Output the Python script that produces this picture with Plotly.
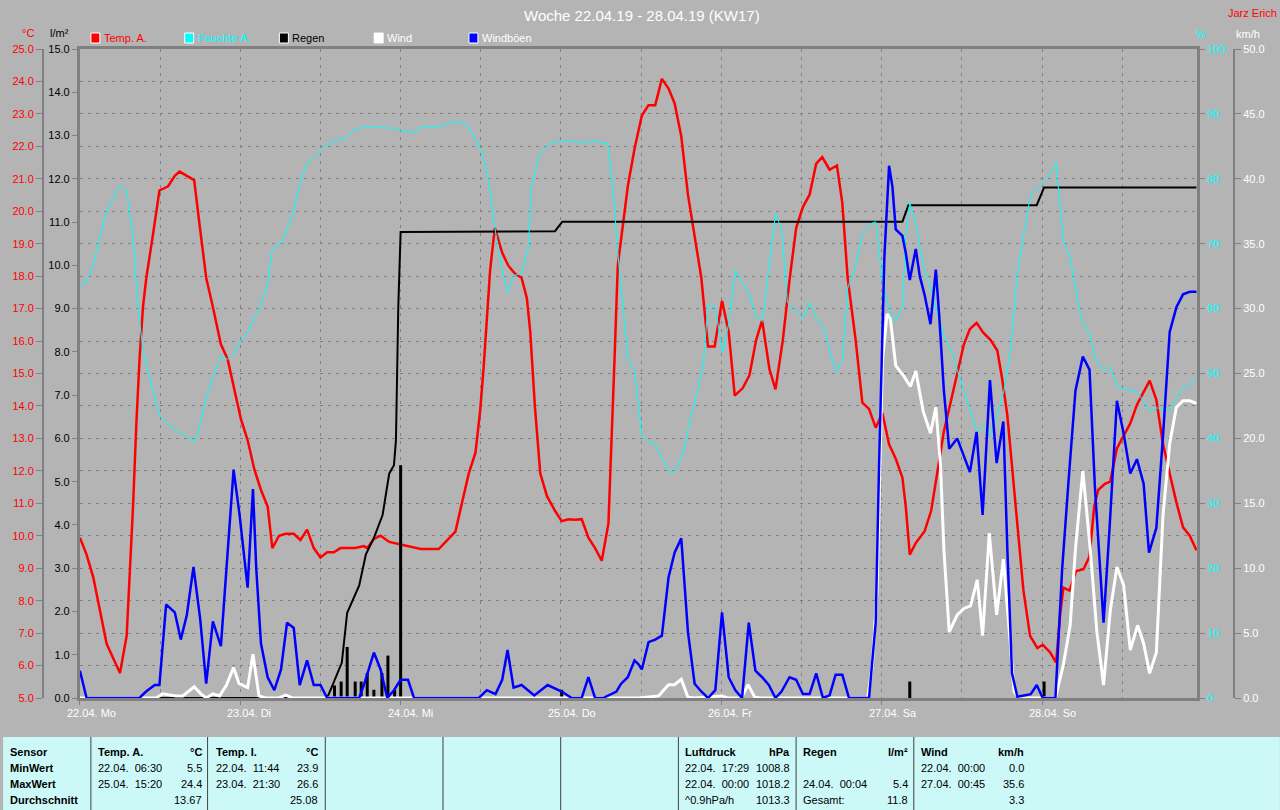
import plotly.graph_objects as go

# ---------------- data (time in hours since 22.04.19 00:00) ----------------
temp_t = [0, 1.0, 2.0, 3.0, 4.0, 5.0, 6.0, 7.0, 7.5, 7.95, 8.45, 8.94, 9.44, 9.94, 10.9, 11.9, 13.2, 14.2, 14.9,
          15.9, 17.1, 17.9, 18.9, 19.9, 21.1, 22.1, 23.1, 24.1, 25.1, 26.1, 27.1, 28.1, 28.8, 29.8, 30.8, 32.0,
          33.0, 34.0, 35.0, 36.0, 37.0, 38.0, 39.0, 41.2, 42.5, 43.0, 44.0, 45.0, 46.3, 48.25, 50.0, 51.0, 53.7,
          54.7, 56.2, 57.2, 58.2, 59.2, 59.9, 60.4, 60.9, 61.4, 62.1, 63.2, 64.1, 65.1, 66.1, 66.9, 67.4, 68.1,
          68.9, 69.9, 71.1, 72.1, 73.1, 74.1, 75.1, 76.1, 77.1, 78.1, 79.1, 79.5, 80.0, 80.5, 81.3, 82.0, 83.0,
          84.1, 85.1, 86.1, 87.1, 88.1, 89.0, 90.0, 91.0, 92.0, 93.0, 94.0, 95.0, 96.1, 97.1, 98.0, 99.2, 100.2,
          101.2, 102.1, 103.2, 104.1, 105.2, 106.2, 107.2, 108.2, 109.2, 110.2, 111.1, 112.2, 113.3, 114.1, 114.9,
          116.1, 117.1, 118.1, 119.1, 120.1, 121.1, 122.1, 123.1, 123.6, 124.2, 125.1, 126.4, 127.4, 128.4,
          129.3, 130.3, 131.3, 132.3, 133.2, 134.2, 135.2, 136.3, 137.3, 138.0, 138.8, 139.5, 140.3, 141.2,
          142.2, 143.3, 144.1, 145.2, 146.1, 146.7, 147.2, 148.1, 149.1, 150.2, 151.1, 151.8, 152.4, 153.4,
          154.2, 155.2, 156.2, 157.2, 158.2, 159.2, 160.1, 161.1, 162.1, 163.1, 164.1, 165.1, 166.1, 167.1]
temp_v = [9.94, 9.42, 8.72, 7.69, 6.67, 6.22, 5.77, 6.92, 8.97, 10.9, 13.46, 15.5, 17.05, 17.95, 19.23, 20.64,
          20.77, 21.09, 21.22, 21.09, 20.96, 19.6, 17.95, 17.05, 15.9, 15.45, 14.49, 13.59, 12.95, 12.05, 11.41,
          10.9, 9.62, 10.0, 10.06, 10.06, 9.87, 10.19, 9.62, 9.33, 9.49, 9.49, 9.62, 9.62, 9.68, 9.62, 9.9, 10.0,
          9.81, 9.72, 9.64, 9.59, 9.59, 9.81, 10.13, 11.03, 11.92, 12.56, 13.85, 15.13, 16.8, 18.2, 19.49, 18.72,
          18.33, 18.08, 17.95, 17.31, 16.28, 13.97, 11.92, 11.22, 10.77, 10.45, 10.51, 10.49, 10.51, 9.94, 9.62,
          9.23, 10.38, 12.44, 15.38, 18.33, 19.62, 20.77, 21.92, 22.95, 23.27, 23.27, 24.08, 23.78, 23.33, 22.31,
          20.51, 19.23, 17.95, 15.83, 15.83, 17.24, 16.28, 14.32, 14.55, 14.94, 16.03, 16.64, 15.13, 14.51, 16.03,
          17.88, 19.49, 20.13, 20.51, 21.47, 21.67, 21.28, 21.41, 20.26, 17.95, 16.03, 14.1, 13.91, 13.33, 13.78,
          12.82, 12.37, 11.79, 10.9, 9.42, 9.78, 10.13, 10.77, 12.05, 13.21, 14.1, 15.0, 15.9, 16.37, 16.56,
          16.26, 16.03, 15.71, 14.87, 13.72, 12.18, 10.51, 8.33, 6.92, 6.54, 6.64, 6.41, 6.09, 7.56, 8.4, 8.31,
          8.91, 8.97, 9.36, 10.9, 11.41, 11.6, 11.67, 12.69, 13.08, 13.46, 14.04, 14.42, 14.78, 14.19, 12.82,
          11.92, 11.03, 10.26, 10.0, 9.55]

hum_t = [0, 1.0, 2.0, 3.0, 4.0, 5.0, 6.0, 7.0, 7.95, 8.7, 9.4, 10.4, 11.9, 13.4, 14.9, 15.9, 17.1, 17.9, 18.9,
         19.9, 21.1, 22.1, 23.1, 24.1, 25.1, 26.8, 28.1, 28.8, 30.1, 31.8, 33.0, 34.0, 35.3, 36.8, 38.3, 40.0,
         41.0, 42.5, 44.8, 46.8, 48.25, 50.0, 51.0, 54.2, 55.0, 56.7, 57.7, 59.2, 60.2, 61.2, 62.2, 63.2, 64.0,
         64.9, 66.1, 67.1, 67.6, 68.9, 70.1, 71.6, 73.6, 75.1, 76.6, 79.0, 79.8, 80.5, 81.3, 82.0, 83.0, 84.1,
         85.1, 86.1, 87.1, 88.3, 89.0, 90.3, 91.3, 92.3, 93.3, 94.0, 95.1, 96.2, 97.1, 98.1, 99.2, 100.2, 101.2,
         102.2, 103.2, 104.1, 105.0, 105.9, 106.9, 108.2, 109.2, 110.4, 111.2, 112.2, 113.1, 114.1, 114.9,
         116.1, 117.1, 118.4, 119.1, 120.1, 121.1, 122.1, 123.1, 123.6, 124.2, 125.1, 126.4, 127.4, 128.4,
         129.3, 130.3, 131.3, 132.3, 133.3, 134.2, 135.1, 136.1, 137.0, 138.3, 139.3, 140.3, 141.3, 142.3,
         143.3, 144.3, 145.2, 146.1, 147.2, 148.2, 149.5, 150.2, 151.2, 152.2, 153.2, 154.2, 155.2, 156.2,
         157.2, 158.2, 159.2, 160.1, 161.1, 162.1, 163.1, 164.1, 165.1, 166.1, 167.1]
hum_v = [63.6, 64.1, 66.7, 71.2, 75.0, 76.9, 79.0, 78.2, 71.2, 60.3, 53.8, 49.4, 43.6, 42.0, 41.0, 40.3, 39.4,
         42.0, 46.2, 49.4, 52.7, 52.2, 53.2, 55.1, 56.4, 59.9, 63.8, 69.2, 70.0, 74.4, 79.5, 82.4, 83.7, 85.1,
         85.9, 86.4, 87.7, 87.9, 87.9, 87.8, 87.4, 87.1, 87.9, 87.9, 88.6, 88.8, 88.5, 86.2, 84.0, 79.5, 71.8,
         66.0, 62.5, 65.1, 65.4, 69.2, 78.8, 84.0, 85.3, 85.8, 85.8, 85.4, 85.8, 85.4, 78.2, 68.6, 60.3, 52.2,
         50.3, 40.4, 39.4, 39.1, 36.9, 34.7, 34.9, 37.8, 42.9, 46.8, 51.3, 60.6, 60.1, 53.2, 57.7, 66.0, 63.8,
         62.2, 58.7, 58.0, 67.3, 74.5, 72.4, 60.9, 59.9, 58.5, 60.9, 58.0, 57.4, 53.8, 50.3, 51.9, 63.1, 66.7,
         71.5, 73.1, 73.4, 64.1, 59.9, 58.0, 60.3, 71.2, 76.4, 73.1, 66.0, 62.8, 59.0, 55.8, 53.8, 50.6, 47.4,
         44.2, 41.2, 42.0, 40.4, 42.6, 47.4, 53.8, 65.4, 71.8, 77.6, 78.5, 79.5, 80.8, 82.4, 70.5, 67.9, 60.3,
         57.7, 55.8, 51.6, 50.6, 51.0, 48.2, 47.6, 47.4, 47.1, 45.8, 44.2, 44.7, 44.6, 44.2, 46.2, 47.8, 48.2,
         49.5]

rain_sum_t = [0, 37.0, 37.8, 39.2, 40.0, 41.2, 41.8, 42.8, 44.0, 45.3, 46.3, 47.0, 47.3, 47.65, 48.0, 71.1, 72.2,
              123.1, 124.0, 143.2, 144.3, 167.1]
rain_sum_v = [0, 0, 0.29, 0.82, 1.97, 2.4, 2.6, 3.32, 3.7, 4.23, 5.19, 5.38, 5.96, 9.04, 10.77, 10.79, 11.01,
              11.01, 11.39, 11.39, 11.8, 11.8]

rain_bar_t = [38.1, 39.1, 40.0, 41.2, 42.1, 43.0, 44.0, 45.2, 46.1, 47.1, 48.0, 72.1, 124.2, 144.3]
rain_bar_v = [0.29, 0.38, 1.18, 0.38, 0.38, 0.58, 0.19, 0.58, 0.98, 0.19, 5.38, 0.19, 0.38, 0.38]

wind_t = [0, 11.4, 12.4, 14.4, 15.4, 17.1, 18.1, 18.9, 19.9, 20.9, 21.9, 23.0, 23.8, 25.1, 25.9, 26.8, 27.8,
          29.8, 30.8, 31.8, 83.6, 86.6, 88.1, 89.0, 90.0, 91.0, 92.0, 96.0, 97.0, 99.0, 100.0, 101.0, 102.0,
          117.9, 118.6, 119.3, 119.6, 120.1, 120.8, 121.3, 122.1, 123.3, 124.3, 125.1, 126.2, 127.3, 128.1,
          128.8, 129.3, 130.1, 131.3, 132.3, 133.3, 134.3, 135.1, 136.1, 137.2, 138.2, 139.2, 139.8, 140.5,
          146.0, 147.2, 148.2, 149.0, 150.1, 151.2, 152.2, 153.2, 154.2, 155.2, 156.2, 157.2, 158.3, 159.2,
          160.1, 161.1, 162.1, 163.1, 164.1, 165.1, 166.1, 167.1]
wind_v = [0, 0, 0.32, 0.16, 0.16, 0.87, 0.32, 0, 0.32, 0.16, 0.96, 2.34, 1.12, 0.8, 3.37, 0.16, 0, 0, 0.22, 0,
          0, 0.16, 1.03, 1.03, 1.44, 0.06, 0, 0.16, 0, 0, 1.03, 0.06, 0, 0, 2.56, 8.33, 14.74, 25.96, 29.6,
          29.2, 25.6, 24.8, 24.0, 25.2, 22.1, 20.4, 22.4, 17.9, 11.5, 5.1, 6.4, 6.9, 7.1, 9.1, 4.8, 12.7, 6.4,
          10.7, 4.5, 0.5, 0, 0, 2.6, 5.6, 11.5, 17.5, 11.5, 5.1, 1.0, 6.7, 10.1, 8.7, 3.7, 5.6, 4.2, 1.9, 3.5,
          14.1, 19.6, 22.4, 22.9, 22.9, 22.7]

gust_t = [0, 1.0, 8.9, 9.9, 11.2, 11.9, 12.9, 14.2, 15.1, 16.0, 17.0, 18.0, 18.9, 19.9, 21.1, 22.1, 23.0, 23.9,
          25.1, 25.9, 26.4, 27.1, 28.1, 29.1, 30.1, 31.0, 32.0, 32.9, 34.0, 35.0, 36.0, 37.0, 41.8, 42.5, 44.0,
          45.0, 46.0, 47.0, 48.0, 49.1, 50.0, 59.7, 60.9, 62.2, 63.2, 64.0, 64.9, 66.1, 68.0, 70.0, 72.1, 73.6,
          75.1, 76.1, 77.1, 78.3, 80.3, 81.0, 82.0, 83.0, 83.6, 84.1, 85.1, 86.1, 87.1, 88.1, 89.0, 90.0, 91.0,
          92.0, 93.0, 94.0, 95.1, 96.1, 97.1, 98.1, 99.1, 100.1, 101.1, 102.1, 103.1, 104.1, 105.0, 106.2,
          107.2, 108.2, 109.2, 110.2, 111.2, 112.2, 113.1, 114.1, 115.1, 118.1, 119.1, 119.6, 120.1, 120.4,
          121.1, 121.6, 122.1, 123.1, 123.6, 124.2, 125.1, 125.7, 126.4, 127.3, 128.1, 128.6, 129.3, 130.1,
          131.3, 132.3, 133.2, 134.2, 135.1, 136.2, 137.2, 138.2, 138.8, 139.5, 140.3, 141.3, 142.3, 143.2,
          144.1, 146.0, 147.0, 148.0, 149.0, 150.1, 151.1, 151.9, 153.2, 154.1, 155.2, 156.2, 157.2, 158.2,
          159.2, 160.0, 161.1, 162.1, 163.1, 164.1, 165.1, 166.1, 167.1]
gust_v = [2.1, 0, 0, 0.5, 1.0, 1.0, 7.2, 6.6, 4.5, 6.4, 10.1, 6.1, 1.1, 5.9, 4.0, 11.5, 17.6, 14.1, 8.5, 16.1,
          9.9, 4.2, 1.6, 0.6, 2.2, 5.8, 5.4, 1.0, 2.9, 1.0, 1.0, 0, 0, 1.0, 3.5, 2.2, 0, 0.6, 1.4, 1.4, 0, 0,
          0.6, 0.3, 1.4, 3.7, 0.8, 1.0, 0.2, 1.0, 0.5, 0, 0, 1.6, 0, 0, 0.5, 1.1, 1.6, 2.9, 2.6, 2.2, 4.3, 4.5,
          4.8, 9.3, 11.2, 12.3, 5.1, 1.1, 0.5, 0, 0.6, 6.6, 1.6, 0.6, 0, 5.8, 2.1, 1.6, 1.0, 0, 0.5, 1.6, 1.4,
          0.3, 0.3, 1.9, 0, 0.2, 1.8, 1.8, 0, 0, 5.8, 17.9, 26.9, 34.0, 41.0, 39.4, 36.1, 35.6, 34.3, 32.2,
          34.6, 32.5, 31.1, 28.8, 33.0, 29.5, 23.7, 19.2, 20.0, 18.6, 17.4, 20.5, 14.1, 24.5, 18.1, 21.3, 11.5,
          1.9, 0.1, 0.2, 0.3, 1.0, 0, 0, 9.9, 17.0, 23.7, 26.3, 25.3, 16.3, 5.8, 13.1, 22.9, 20.4, 17.3, 18.4,
          16.5, 11.2, 13.1, 20.2, 28.2, 30.1, 31.1, 31.3, 31.3]

day_ticks = [0, 24, 48, 72, 96, 120, 144]
day_labels = ["22.04. Mo", "23.04. Di", "24.04. Mi", "25.04. Do", "26.04. Fr", "27.04. Sa", "28.04. So"]

legend_names = ["Temp. A.", "Feuchte A.", "Regen", "Wind", "Windböen"]
legend_colors = ["#FF0000", "#00FFFF", "#000000", "#FFFFFF", "#0000FF"]
legend_text_colors = ["#FF0000", "#00FFFF", "#000000", "#FFFFFF", "#FFFFFF"]

table_first_col = ["Sensor", "MinWert", "MaxWert", "Durchschnitt"]
table_cols = [
    ("Temp. A.", "°C", ["22.04.\u00a0 06:30", "25.04.\u00a0 15:20", ""], ["5.5", "24.4", "13.67"]),
    ("Temp. I.", "°C", ["22.04.\u00a0 11:44", "23.04.\u00a0 21:30", ""], ["23.9", "26.6", "25.08"]),
    ("Luftdruck", "hPa", ["22.04.\u00a0 17:29", "22.04.\u00a0 00:00", "^0.9hPa/h"], ["1008.8", "1018.2", "1013.3"]),
    ("Regen", "l/m²", ["", "24.04.\u00a0 00:04", "Gesamt:"], ["", "5.4", "11.8"]),
    ("Wind", "km/h", ["22.04.\u00a0 00:00", "27.04.\u00a0 00:45", ""], ["0.0", "35.6", "3.3"]),
]

# ---------------- layout geometry ----------------
W, H = 1280, 810
ML, MR, MT, MB = 40, 46, 49, 112
PW = W - ML - MR
PH = H - MT - MB


def X(px):
    return (px - ML) / PW


def Y(py):
    return (H - MB - py) / PH


BG = "#B4B4B4"
GRID = "#808080"
FONT = "Liberation Sans, Arial, sans-serif"

fig = go.Figure()

fig.add_trace(go.Scatter(x=hum_t, y=hum_v, yaxis="y3", mode="lines",
                         line=dict(color="#00FFFF", width=1), name="Feuchte A."))
fig.add_trace(go.Bar(x=rain_bar_t, y=rain_bar_v, yaxis="y2", width=0.45,
                     marker=dict(color="#000000", line=dict(width=0)), name="Regen h"))
fig.add_trace(go.Scatter(x=rain_sum_t, y=rain_sum_v, yaxis="y2", mode="lines",
                         line=dict(color="#000000", width=2), name="Regen"))
fig.add_trace(go.Scatter(x=temp_t, y=temp_v, yaxis="y", mode="lines",
                         line=dict(color="#FF0000", width=2.5), name="Temp. A."))
fig.add_trace(go.Scatter(x=wind_t, y=wind_v, yaxis="y4", mode="lines",
                         line=dict(color="#FFFFFF", width=3), name="Wind"))
fig.add_trace(go.Scatter(x=gust_t, y=gust_v, yaxis="y4", mode="lines",
                         line=dict(color="#0000FF", width=2.5), name="Windböen"))

shapes = []
annotations = []


def note(px, py, text, color, size=11, xanchor="center"):
    shift = {"left": -2, "right": 2, "center": 0}[xanchor]
    return dict(xref="paper", yref="paper", x=X(px), y=Y(py), xshift=shift, text=text, showarrow=False,
                xanchor=xanchor, yanchor="middle", font=dict(family=FONT, size=size, color=color))


# legend
legend_px = [88, 182, 277, 372, 467]
for px, name, col, tcol in zip(legend_px, legend_names, legend_colors, legend_text_colors):
    shapes.append(dict(type="rect", xref="paper", yref="paper", x0=X(px), x1=X(px + 9),
                       y0=Y(43), y1=Y(33), fillcolor=col, line=dict(color="#FFFFFF", width=1)))
    annotations.append(note(px + 13, 38, name, tcol, xanchor="left"))

# headers
annotations += [
    note(641, 15, "Woche 22.04.19 - 28.04.19 (KW17)", "#FFFFFF", size=15),
    note(1277, 13, "Jarz Erich", "#FF0000", xanchor="right"),
    note(25, 33, "°C", "#FF0000"),
    note(57, 33, "l/m²", "#000000"),
    note(1201, 34, "%", "#00FFFF"),
    note(1248, 34, "km/h", "#FFFFFF"),
]

# day labels
for t, lab in zip(day_ticks, day_labels):
    annotations.append(dict(xref="x", yref="paper", x=t, xshift=-15, y=Y(713), text=lab,
                            showarrow=False, xanchor="left", yanchor="middle",
                            font=dict(family=FONT, size=11, color="#FFFFFF")))

# table
shapes.append(dict(type="rect", xref="paper", yref="paper", x0=X(0), x1=X(W), y0=Y(H), y1=Y(737),
                   fillcolor="#CCF9F8", line=dict(width=0), layer="below"))
for px in [88, 205, 323, 441, 559, 677, 795, 913]:
    shapes.append(dict(type="line", xref="paper", yref="paper", x0=X(px), x1=X(px),
                       y0=Y(737), y1=Y(H), line=dict(color="#404040", width=1)))
row_y = [752, 768, 784, 800]
for ry, txt in zip(row_y, table_first_col):
    annotations.append(note(7, ry, "<b>" + txt + "</b>", "#000000", xanchor="left"))
col_pos = [(95, 199), (213, 316), (684, 789), (802, 907), (920, 1023)]
for (lx, rx), (head, unit, lefts, rights) in zip(col_pos, table_cols):
    annotations.append(note(lx, row_y[0], "<b>" + head + "</b>", "#000000", xanchor="left"))
    annotations.append(note(rx, row_y[0], "<b>" + unit + "</b>", "#000000", xanchor="right"))
    for ry, lt, rt in zip(row_y[1:], lefts, rights):
        if lt:
            annotations.append(note(lx, ry, lt, "#000000", xanchor="left"))
        if rt:
            annotations.append(note(rx, ry, rt, "#000000", xanchor="right"))

fig.update_layout(
    width=W, height=H,
    margin=dict(l=ML, r=MR, t=MT, b=MB, pad=0),
    paper_bgcolor=BG, plot_bgcolor=BG,
    showlegend=False, barmode="overlay",
    xaxis=dict(domain=[X(77), X(1197)], range=[0, 167.2], tickvals=day_ticks, showticklabels=False,
               ticks="outside", ticklen=4, tickcolor=GRID,
               showgrid=True, gridcolor=GRID, griddash="3px,5px", gridwidth=1,
               minor=dict(dtick=12, tick0=0, showgrid=True, gridcolor=GRID, griddash="3px,5px", gridwidth=1),
               showline=True, linecolor=GRID, linewidth=3, mirror=True, zeroline=False),
    yaxis=dict(anchor="free", position=0, side="left", range=[5, 25], dtick=1, tickformat=".1f",
               tickfont=dict(family=FONT, size=11, color="#FF0000"),
               ticks="outside", ticklen=6, tickcolor=GRID,
               showline=True, linecolor=GRID, linewidth=2,
               showgrid=True, gridcolor=GRID, griddash="3px,5px", gridwidth=1, zeroline=False),
    yaxis2=dict(anchor="x", overlaying="y", side="left", range=[0, 15], dtick=1, tickformat=".1f",
                tickfont=dict(family=FONT, size=11, color="#000000"),
                ticks="outside", ticklen=5, tickcolor=GRID,
                showline=True, linecolor=GRID, linewidth=3, showgrid=False, zeroline=False),
    yaxis3=dict(anchor="x", overlaying="y", side="right", range=[0, 100], dtick=10,
                tickfont=dict(family=FONT, size=11, color="#00FFFF"),
                ticks="outside", ticklen=5, tickcolor=GRID,
                showline=True, linecolor=GRID, linewidth=3, showgrid=False, zeroline=False),
    yaxis4=dict(anchor="free", position=1, overlaying="y", side="right", range=[0, 50], dtick=5,
                tickformat=".1f", tickfont=dict(family=FONT, size=11, color="#FFFFFF"),
                ticks="outside", ticklen=6, tickcolor=GRID,
                showline=True, linecolor=GRID, linewidth=2, showgrid=False, zeroline=False),
    shapes=shapes,
    annotations=annotations,
)

fig.write_html("out.html", config={"displayModeBar": False},
               post_script="document.body.style.margin='0';document.body.style.overflow='hidden';")
